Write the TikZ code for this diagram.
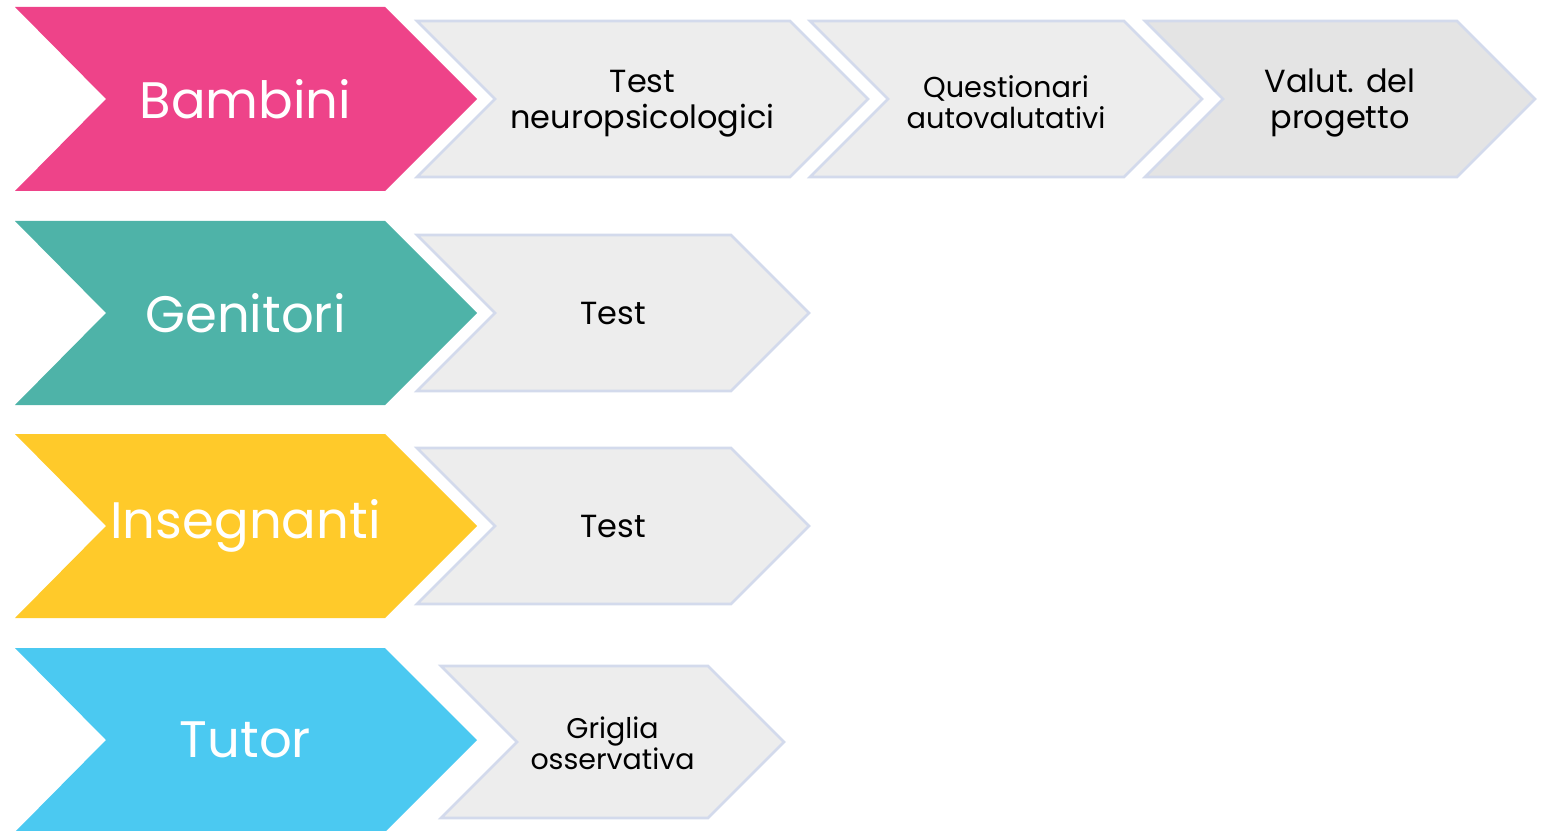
\documentclass[tikz,border=0pt]{standalone}
\usepackage{fontspec}
\setmainfont{Poppins}
\definecolor{rosa}{HTML}{EE4389}
\definecolor{verde}{HTML}{4EB3A8}
\definecolor{giallo}{HTML}{FFCA2A}
\definecolor{azzurro}{HTML}{4BC9F1}
\definecolor{grigio}{HTML}{EDEDED}
\definecolor{bordo}{HTML}{D3DAEC}
\tikzset{big/.style={text=white, font=\fontsize{29.2}{34}\selectfont},
  sml/.style={align=center},
  tab/.style={fill=grigio, draw=bordo, line width=1.5pt, line join=miter}}

\begin{document}
\begin{tikzpicture}[x=0.02cm,y=-0.02cm]
\useasboundingbox (0,0) rectangle (1544,831);
% big chevrons on the left
\foreach \n/\t/\c/\y in {bamb/Bambini/rosa/99,geni/Genitori/verde/313,inse/Insegnanti/giallo/526,tuto/Tutor/azzurro/740}{
\fill[\c] (15,\y-92)--(385,\y-92)--(477,\y)--(385,\y+92)--(15,\y+92)--(106,\y)--cycle;
\node[big] (\n) at (245.5,\y) {\t};
}
% grey chevrons: name/left/corner/centre/half height/colour/shift/font size/leading/text
\foreach \n/\l/\r/\y/\h/\f/\s/\z/\b/\t in {neur/417/790/99/78/grigio/5/18.2/20.5/{Test\\neuropsicologici},
  ques/810/1124/99/78/grigio/3/16.4/17.6/{Questionari\\autovalutativi},
  valu/1145/1457/99/78/grigio!96!black/4/18.2/20.5/{Valut. del\\progetto},
  tgen/417/731/313/78/grigio/0/18.2/20.5/Test,
  tins/417/731/526/78/grigio/0/18.2/20.5/Test,
  grig/441/708/742/76/grigio/1/16.2/17.8/{Griglia\\osservativa}}{
\draw[tab,fill=\f] (\l,\y-\h)--(\r,\y-\h)--(\r+\h,\y)--(\r,\y+\h)--(\l,\y+\h)--(\l+\h,\y)--cycle;
\node[sml,font=\fontsize{\z}{\b}\selectfont] (\n) at ({(\l+\h+\r)/2},\y+\s) {\t};
}
\end{tikzpicture}
\end{document}
